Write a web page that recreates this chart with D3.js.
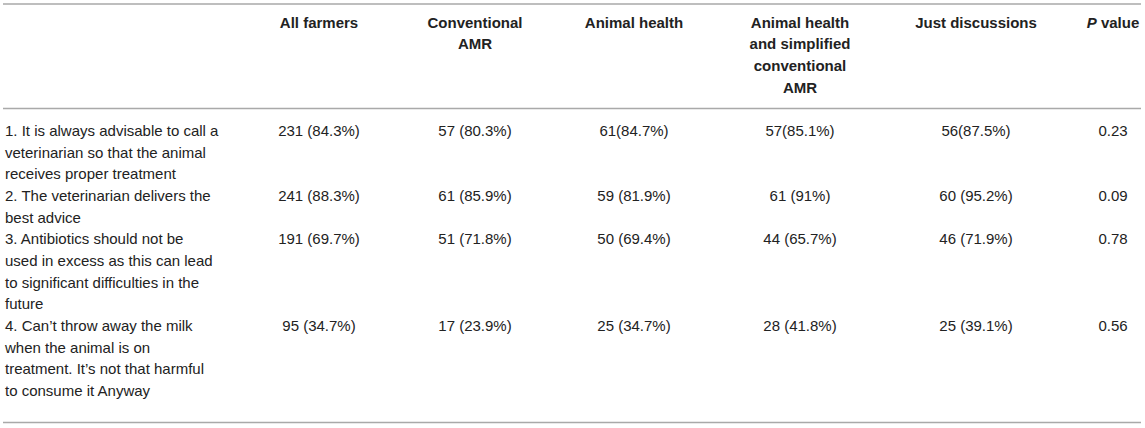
<!DOCTYPE html>
<html>
<head>
<meta charset="utf-8">
<script src="https://cdn.jsdelivr.net/npm/d3@7"></script>
<style>
  body { margin: 0; background: #fff; }
  text { font-family: "Liberation Sans", Arial, Helvetica, sans-serif; font-size: 15px; fill: #222; }
</style>
</head>
<body>
<div class="canvas"></div>
<script>
// column headings, one entry per line
const headers = [
    ['All farmers'],
    ['Conventional', 'AMR'],
    ['Animal health'],
    ['Animal health', 'and simplified', 'conventional', 'AMR'],
    ['Just discussions'],
    ['P value']
];

// row labels, already wrapped like the original
const statements = [
    ['1. It is always advisable to call a', 'veterinarian so that the animal', 'receives proper treatment'],
    ['2. The veterinarian delivers the', 'best advice'],
    ['3. Antibiotics should not be', 'used in excess as this can lead', 'to significant difficulties in the', 'future'],
    ['4. Can\u2019t throw away the milk', 'when the animal is on', 'treatment. It\u2019s not that harmful', 'to consume it Anyway']
];

// counts and percentages per group
const allFarmers   = ['231 (84.3%)', '241 (88.3%)', '191 (69.7%)', '95 (34.7%)'];
const conventional = ['57 (80.3%)', '61 (85.9%)', '51 (71.8%)', '17 (23.9%)'];
const animalHealth = ['61(84.7%)', '59 (81.9%)', '50 (69.4%)', '25 (34.7%)'];
const simplified   = ['57(85.1%)', '61 (91%)', '44 (65.7%)', '28 (41.8%)'];
const discussions  = ['56(87.5%)', '60 (95.2%)', '46 (71.9%)', '25 (39.1%)'];
const pValues      = ['0.23', '0.09', '0.78', '0.56'];

const columns = [allFarmers, conventional, animalHealth, simplified, discussions, pValues];

const width = 1145, height = 428;
const lineH = 21.67;

// layout: centre of every numeric column
const colX = d3.scaleOrdinal()
    .domain(d3.range(columns.length))
    .range([319, 475, 634, 800, 976, 1113]);

const svg = d3.select('.canvas').append('svg')
    .attr('width', width)
    .attr('height', height);

// rules
const rule = y => svg.append('line')
    .attr('x1', 3).attr('x2', 1141)
    .attr('y1', y).attr('y2', y)
    .attr('stroke', '#a9a9a9')
    .attr('stroke-width', 1.6);
rule(4);
rule(108.5);
rule(422.5);

// header
const headG = svg.append('g').attr('font-weight', 'bold');
headers.forEach((lines, i) => {
    const t = headG.append('text')
        .attr('text-anchor', 'middle')
        .attr('x', colX(i))
        .attr('y', 27.5)
        .style('font-weight', 'bold');
    lines.forEach((ln, j) => {
        const ts = t.append('tspan')
            .attr('x', colX(i))
            .attr('dy', j === 0 ? 0 : lineH);
        if (ln === 'P value') {
            ts.append('tspan').attr('font-style', 'italic').text('P');
            ts.append('tspan').text(' value');
        } else {
            ts.text(ln);
        }
    });
});

// body rows, lines stack straight after each other
let startLine = 0;
const rowStart = statements.map(s => {
    const s0 = startLine;
    startLine += s.length;
    return s0;
});
const y0 = 136;

statements.forEach((lines, r) => {
    const y = y0 + rowStart[r] * lineH;
    const t = svg.append('text')
        .attr('x', 5)
        .attr('y', y);
    lines.forEach((ln, j) => {
        t.append('tspan')
            .attr('x', 5)
            .attr('dy', j === 0 ? 0 : lineH)
            .text(ln);
    });

    columns.forEach((col, c) => {
        svg.append('text')
            .attr('text-anchor', 'middle')
            .attr('x', colX(c))
            .attr('y', y)
            .text(col[r]);
    });
});
</script>
</body>
</html>
